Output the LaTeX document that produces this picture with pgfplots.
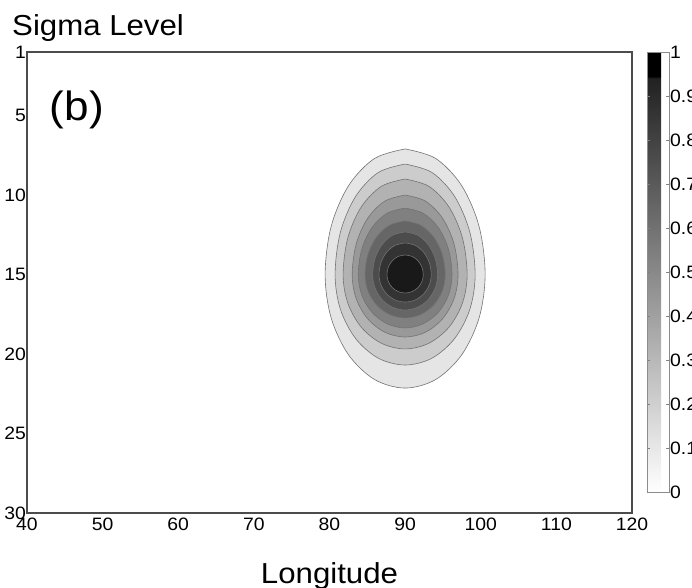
\documentclass[border=0pt]{standalone}
\usepackage{fontspec}
\setmainfont{Liberation Sans}[FakeStretch=1.08]
\usepackage{pgfplots}
\pgfplotsset{compat=1.18}
\pgfplotsset{/pgf/number format/assume math mode=true}
\pgfplotsset{contourfill/.style={draw=black!55, line width=0.6bp, smooth, tension=0.55}}
\begin{document}
\begin{tikzpicture}
\begin{axis}[
  name=main,
  scale only axis,
  width=605bp, height=461bp,
  xmin=40, xmax=120, ymin=1, ymax=30,
  y dir=reverse,
  xtick={40,50,60,70,80,90,100,110,120},
  ytick={1,5,10,15,20,25,30},
  major tick length=0pt,
  axis line style={black!70, line width=1.1bp},
  tick label style={font=\fontsize{18}{20}\selectfont},
  yticklabel style={inner xsep=1bp},
  xticklabel style={inner ysep=5bp},
  xlabel={Longitude},
  ylabel={Sigma Level},
  every axis x label/.style={at={(axis description cs:0.5,0)}, anchor=base, yshift=-70bp, inner sep=0pt, font=\fontsize{29}{32}\selectfont},
  every axis y label/.style={at={(axis description cs:0,1)}, anchor=base west, xshift=-15bp, yshift=17bp, inner sep=0pt, font=\fontsize{29}{32}\selectfont},
  colorbar,
  colormap={cbgray}{gray(0cm)=(1); gray(94cm)=(0.13); gray(94.5cm)=(0); gray(100cm)=(0)},
  point meta min=0, point meta max=1,
  colorbar style={
    scale only axis,
    width=22bp, height=440bp,
    at={(parent axis.north east)}, anchor=north west, xshift=6.5bp,
    ytick={0,0.1,0.2,0.3,0.4,0.5,0.6,0.7,0.8,0.9,1},
    yticklabels={0,0.1,0.2,0.3,0.4,0.5,0.6,0.7,0.8,0.9,1},
    ytick pos=both, yticklabel pos=right,
    tick align=inside,
    major tick length=3bp,
    tick style={black!50, line width=0.6bp},
    axis line style={black!45, line width=0.8bp},
    yticklabel style={font=\fontsize{18}{20}\selectfont, inner xsep=1bp},
  },
]
% level 0.1
\addplot[contourfill, fill=black!10] coordinates {(90,7.10) (94.05,7.70) (97.48,9.41) (99.78,11.97) (100.58,15) (99.78,17.73) (97.48,20.05) (94.05,21.60) (90,22.14) (85.95,21.60) (82.52,20.05) (80.22,17.73) (79.42,15) (80.22,11.97) (82.52,9.41) (85.95,7.70) (90,7.10)};
% level 0.2
\addplot[contourfill, fill=black!20] coordinates {(90,8.05) (93.55,8.58) (96.55,10.09) (98.56,12.34) (99.26,15) (98.56,17.18) (96.55,19.02) (93.55,20.26) (90,20.69) (86.45,20.26) (83.45,19.02) (81.44,17.18) (80.74,15) (81.44,12.34) (83.45,10.09) (86.45,8.58) (90,8.05)};
% level 0.3
\addplot[contourfill, fill=black!30] coordinates {(90,8.99) (93.14,9.45) (95.80,10.75) (97.58,12.70) (98.2,15) (97.58,16.79) (95.80,18.31) (93.14,19.32) (90,19.68) (86.86,19.32) (84.20,18.31) (82.42,16.79) (81.8,15) (82.42,12.70) (84.20,10.75) (86.86,9.45) (90,8.99)};
% level 0.4
\addplot[contourfill, fill=black!40] coordinates {(90,10.0) (92.68,10.38) (94.95,11.46) (96.47,13.08) (97.0,15) (96.47,16.51) (94.95,17.78) (92.68,18.63) (90,18.93) (87.32,18.63) (85.05,17.78) (83.53,16.51) (83.0,15) (83.53,13.08) (85.05,11.46) (87.32,10.38) (90,10.0)};
% level 0.5
\addplot[contourfill, fill=black!50] coordinates {(90,10.82) (92.37,11.14) (94.38,12.04) (95.73,13.40) (96.2,15) (95.73,16.29) (94.38,17.38) (92.37,18.10) (90,18.36) (87.63,18.10) (85.62,17.38) (84.27,16.29) (83.8,15) (84.27,13.40) (85.62,12.04) (87.63,11.14) (90,10.82)};
% level 0.6
\addplot[contourfill, fill=black!60] coordinates {(90,11.63) (92.03,11.89) (93.75,12.62) (94.90,13.71) (95.3,15) (94.90,16.05) (93.75,16.93) (92.03,17.52) (90,17.73) (87.97,17.52) (86.25,16.93) (85.10,16.05) (84.7,15) (85.10,13.71) (86.25,12.62) (87.97,11.89) (90,11.63)};
% level 0.7
\addplot[contourfill, fill=black!70] coordinates {(90,12.32) (91.65,12.52) (93.04,13.11) (93.97,13.97) (94.3,15) (93.97,15.85) (93.04,16.58) (91.65,17.06) (90,17.23) (88.35,17.06) (86.96,16.58) (86.03,15.85) (85.7,15) (86.03,13.97) (86.96,13.11) (88.35,12.52) (90,12.32)};
% level 0.8
\addplot[contourfill, fill=black!80] coordinates {(90,13.01) (91.32,13.16) (92.44,13.59) (93.19,14.24) (93.45,15) (93.19,15.66) (92.44,16.22) (91.32,16.60) (90,16.73) (88.68,16.60) (87.56,16.22) (86.81,15.66) (86.55,15) (86.81,14.24) (87.56,13.59) (88.68,13.16) (90,13.01)};
% level 0.9
\addplot[contourfill, fill=black!90] coordinates {(90,13.77) (90.92,13.86) (91.70,14.13) (92.22,14.53) (92.4,15) (92.22,15.44) (91.70,15.82) (90.92,16.07) (90,16.16) (89.08,16.07) (88.30,15.82) (87.78,15.44) (87.6,15) (87.78,14.53) (88.30,14.13) (89.08,13.86) (90,13.77)};
\node[anchor=base west, inner sep=0pt, font=\fontsize{41}{44}\selectfont] at (axis cs:43.0,5.34) {(b)};
\end{axis}
\pgfresetboundingbox
\path[use as bounding box] (main.south west) ++(-27bp,-75bp) rectangle ++(692bp,588bp);
\end{tikzpicture}
\end{document}
